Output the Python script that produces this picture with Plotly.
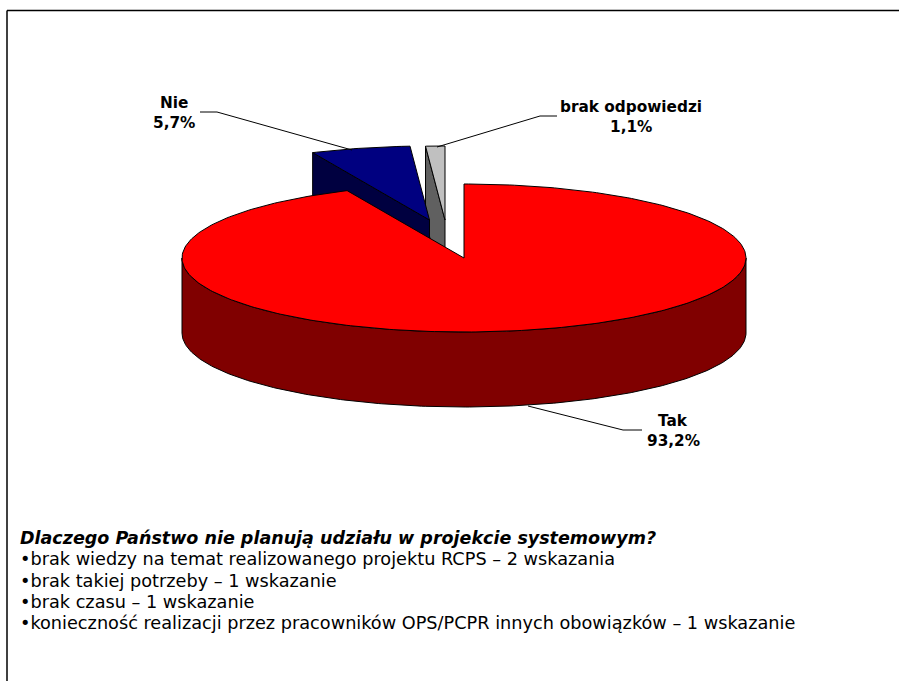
import numpy as np
import plotly.graph_objects as go

# ---- data ----
categories = ["Tak", "Nie", "brak odpowiedzi"]
values = [93.2, 5.7, 1.1]
value_labels = ["93,2%", "5,7%", "1,1%"]
question = "Dlaczego Państwo nie planują udziału w projekcie systemowym?"
reasons = [
    "•brak wiedzy na temat realizowanego projektu RCPS – 2 wskazania",
    "•brak takiej potrzeby – 1 wskazanie",
    "•brak czasu – 1 wskazanie",
    "•konieczność realizacji przez pracowników OPS/PCPR innych obowiązków – 1 wskazanie",
]

# ---- style / layout ----
W, H = 899, 681
CX, CY, RX, RY, DEPTH = 464, 258, 282, 74, 75
offsets = [(0, 0), (-34.5, -38), (-19, -38)]
top_colors = ["#FF0000", "#000080", "#C0C0C0"]
side_colors = ["#800000", "#000040", "#606060"]
FONT = "DejaVu Sans"
label_pos = [(673, 421, 441), (174, 103, 123), (631, 107, 127)]
label_size = 15.3
heading_size = 17.5
body_size = 17.7
reason_y = [559, 581, 602, 623]
leaders = [
    ([528, 623, 642], [406, 430, 430]),
    ([200, 217, 352], [112, 112, 150]),
    ([557, 540, 437], [116, 116, 147]),
]

# angular extent of each slice, clockwise from 12 o'clock
edges = np.concatenate([[0], np.cumsum(values)]) / np.sum(values) * 2 * np.pi


def pt(t, off=(0, 0), dz=0):
    t = np.asarray(t, dtype=float)
    return CX + off[0] + RX * np.sin(t), CY + off[1] - RY * np.cos(t) + dz


def add_poly(fig, xs, ys, color):
    fig.add_trace(go.Scatter(x=xs, y=ys, mode="lines", fill="toself", fillcolor=color,
                             line=dict(color="#000000", width=1), hoverinfo="skip",
                             showlegend=False))


fig = go.Figure()

# back slices first: brak odpowiedzi, Nie, then the large Tak slice in front
for i in [2, 1, 0]:
    a0, a1 = edges[i], edges[i + 1]
    off = offsets[i]
    apex = (CX + off[0], CY + off[1])
    if i == 0:
        # outer wall, front half of the ellipse
        t = np.linspace(np.pi / 2, 3 * np.pi / 2, 240)
        x, y = pt(t, off)
        xb, yb = pt(t, off, DEPTH)
        add_poly(fig, list(x) + list(xb[::-1]) + [x[0]], list(y) + list(yb[::-1]) + [y[0]], side_colors[i])
    else:
        # radial wall seen on the upper-left side of the exploded slices
        ex, ey = pt(a0, off)
        add_poly(fig, [ex, apex[0], apex[0], ex, ex],
                 [ey, apex[1], apex[1] + DEPTH, ey + DEPTH, ey], side_colors[i])
    t = np.linspace(a0, a1, 360 if i == 0 else 24)
    x, y = pt(t, off)
    add_poly(fig, [apex[0]] + list(x) + [apex[0]], [apex[1]] + list(y) + [apex[1]], top_colors[i])

# leader lines
for lx, ly in leaders:
    fig.add_trace(go.Scatter(x=lx, y=ly, mode="lines", line=dict(color="#000000", width=1),
                             hoverinfo="skip", showlegend=False))

annotations = []
for name, val, (lxc, y1, y2) in zip(categories, value_labels, label_pos):
    for txt, yy in ((name, y1), (val, y2)):
        annotations.append(dict(x=lxc, y=yy, text=f"<b>{txt}</b>", showarrow=False, xanchor="center",
                                yanchor="middle", font=dict(family=FONT, size=label_size, color="#000000")))
annotations.append(dict(x=18, y=538, text=f"<b><i>{question}</i></b>", showarrow=False, xanchor="left",
                        yanchor="middle", font=dict(family=FONT, size=heading_size, color="#000000")))
for txt, yy in zip(reasons, reason_y):
    annotations.append(dict(x=18, y=yy, text=txt, showarrow=False, xanchor="left", yanchor="middle",
                            font=dict(family=FONT, size=body_size, color="#000000")))

fig.update_layout(
    width=W, height=H, margin=dict(l=0, r=0, t=0, b=0),
    paper_bgcolor="#FFFFFF", plot_bgcolor="#FFFFFF", showlegend=False,
    xaxis=dict(range=[0, W], visible=False, fixedrange=True),
    yaxis=dict(range=[H, 0], visible=False, fixedrange=True),
    annotations=annotations,
    shapes=[
        dict(type="line", x0=7, x1=W, y0=10.5, y1=10.5, line=dict(color="#000000", width=1.5)),
        dict(type="line", x0=7, x1=7, y0=10.5, y1=H, line=dict(color="#000000", width=1.5)),
    ],
)
fig.write_html("out.html", config={"displayModeBar": False},
               post_script="document.body.style.margin='0';document.documentElement.style.overflow='hidden';")
